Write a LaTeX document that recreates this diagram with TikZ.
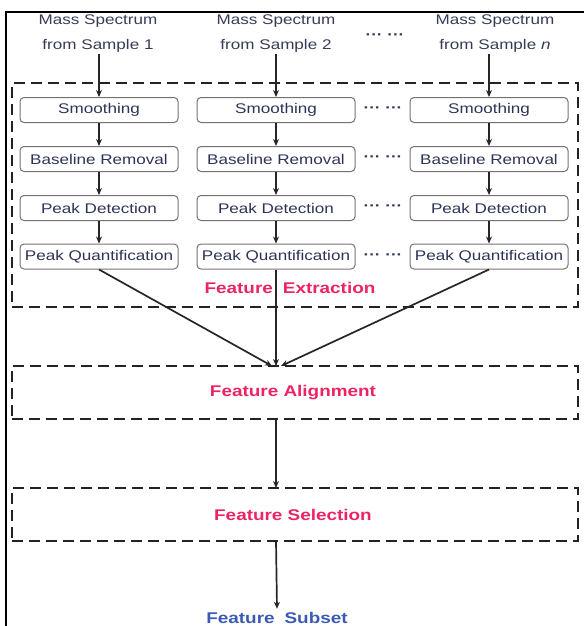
\documentclass[tikz,border=0pt]{standalone}
\usepackage{fontspec}
\usetikzlibrary{arrows.meta}
\newfontfamily\diagfont[FakeStretch=1.22]{Liberation Sans}
\definecolor{hdtext}{RGB}{55,60,85}
\definecolor{bxtext}{RGB}{45,52,85}
\definecolor{pinktext}{RGB}{236,36,100}
\definecolor{subblue}{RGB}{60,90,180}
\definecolor{bxgray}{RGB}{115,115,115}
\definecolor{dashgray}{RGB}{35,35,35}
\tikzset{
  header/.style={align=center, text=hdtext, font=\diagfont\fontsize{14}{17}\selectfont, inner sep=1pt},
  stepbox/.style={draw=bxgray, line width=1pt, rounded corners=4pt, minimum width=158pt, minimum height=25pt, inner sep=0pt, text=bxtext, font=\diagfont\fontsize{14}{15}\selectfont},
  stagebox/.style={draw=dashgray, line width=2.3pt, dash pattern=on 11pt off 6pt, minimum width=566pt, minimum height=53pt, inner sep=0pt},
  stagetext/.style={text=pinktext, font=\diagfont\bfseries\fontsize{15.5}{17}\selectfont},
  dots/.style={text=bxtext, font=\diagfont\bfseries\fontsize{14}{15}\selectfont},
  conn/.style={draw=black!85, line width=1.7pt, -{Stealth[length=7pt,width=6pt]}},
  frameline/.style={draw=black, line width=2pt}
}
\begin{document}
\begin{tikzpicture}[x=1pt,y=-1pt]
\useasboundingbox (0,0) rectangle (584,626);
% frame
\coordinate (fa1) at (6,626);
\coordinate (fa2) at (6,12);
\coordinate (fa3) at (584,12);
\draw[frameline] (fa1) -- (fa2) -- (fa3);

% headers
\node[header] (h1) at (98,33.5) {Mass Spectrum\\[8pt]from Sample 1};
\node[header] (h2) at (276,33.5) {Mass Spectrum\\[8pt]from Sample 2};
\node[header] (h3) at (495,33.5) {Mass Spectrum\\[8pt]from Sample \textit{n}};
\node[dots] (hd) at (385,37) {··· ···};

% feature extraction box
\node[stagebox, minimum height=224pt] (fe) at (295,195) {};
\node[stagetext] (fet) at (290,288) {Feature\hspace{10pt}Extraction};

% step boxes
\foreach \c/\x in {1/99,2/276,3/489}{
  \node[stepbox] (s\c) at (\x,110) {Smoothing};
  \node[stepbox] (b\c) at (\x,159) {Baseline Removal};
  \node[stepbox] (d\c) at (\x,208) {Peak Detection};
  \node[stepbox] (q\c) at (\x,256.5) {Peak Quantification};
  \draw[conn] (s\c) -- (b\c);
  \draw[conn] (b\c) -- (d\c);
  \draw[conn] (d\c) -- (q\c);
}
\node[dots] (sd) at (383,110) {··· ···};
\node[dots] (bd) at (383,159) {··· ···};
\node[dots] (dd) at (383,208) {··· ···};
\node[dots] (qd) at (383,256.5) {··· ···};

\draw[conn] (h1.south -| s1) -- (s1);
\draw[conn] (h2.south -| s2) -- (s2);
\draw[conn] (h3.south -| s3) -- (s3);

% alignment
\node[stagebox] (fa) at (295,392.5) {};
\node[stagetext] (fat) at (293,393) {Feature Alignment};
\coordinate (in1) at (272,366);
\coordinate (in2) at (276,366);
\coordinate (in3) at (281,366);
\draw[conn] (q1.south) -- (in1);
\draw[conn] (q2.south) -- (in2);
\draw[conn] (q3.south) -- (in3);

% selection
\node[stagebox] (fs) at (295,514.5) {};
\node[stagetext] (fst) at (293,515) {Feature Selection};
\coordinate (a1) at (276,419);
\coordinate (a2) at (276,488);
\draw[conn] (a1) -- (a2);

% subset
\node[text=subblue, font=\diagfont\bfseries\fontsize{15.5}{17}\selectfont] (sub) at (277,618) {Feature\hspace{10pt}Subset};
\coordinate (a3) at (276,541);
\draw[conn] (a3) -- (sub.north);
\end{tikzpicture}
\end{document}
